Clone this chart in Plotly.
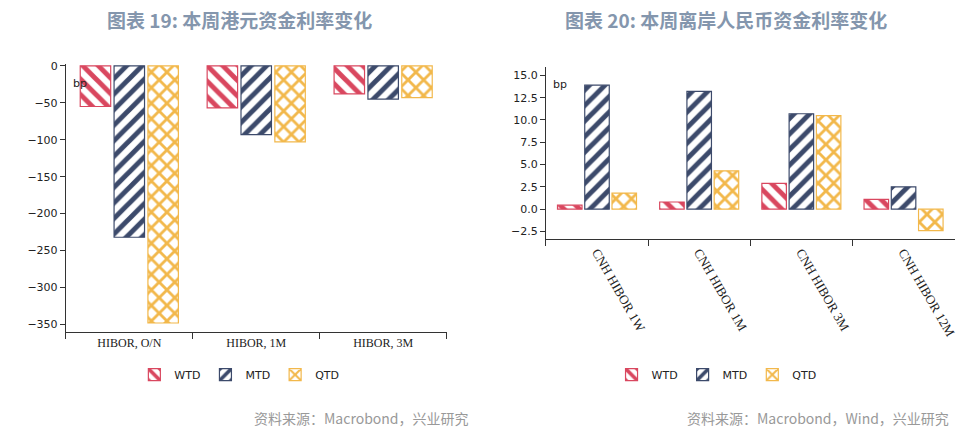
import plotly.graph_objects as go

hk_cats = ["HIBOR, O/N", "HIBOR, 1M", "HIBOR, 3M"]
hk_wtd = [-55, -57, -38]
hk_mtd = [-232, -93, -45]
hk_qtd = [-348, -103, -43]

cnh_cats = ["CNH HIBOR 1W", "CNH HIBOR 1M", "CNH HIBOR 3M", "CNH HIBOR 12M"]
cnh_wtd = [0.45, 0.8, 2.9, 1.1]
cnh_mtd = [13.9, 13.2, 10.7, 2.5]
cnh_qtd = [1.8, 4.3, 10.5, -2.4]

names = ["WTD", "MTD", "QTD"]
colors = ["#d9475f", "#3c4a6b", "#f2b84b"]
shapes = ["\\", "/", "x"]

fig = go.Figure()
for i, vals in enumerate([hk_wtd, hk_mtd, hk_qtd]):
    fig.add_bar(x=hk_cats, y=vals, name=names[i], xaxis="x", yaxis="y", legend="legend",
                marker=dict(color="white", line=dict(color=colors[i], width=1.2),
                            pattern=dict(shape=shapes[i], fgcolor=colors[i], bgcolor="white",
                                         fgopacity=1, size=11, solidity=0.45)))
for i, vals in enumerate([cnh_wtd, cnh_mtd, cnh_qtd]):
    fig.add_bar(x=cnh_cats, y=vals, name=names[i], xaxis="x2", yaxis="y2", legend="legend2",
                marker=dict(color="white", line=dict(color=colors[i], width=1.2),
                            pattern=dict(shape=shapes[i], fgcolor=colors[i], bgcolor="white",
                                         fgopacity=1, size=11, solidity=0.45)))

axis_common = dict(showline=True, linecolor="#333", ticks="outside", tickcolor="#333",
                   showgrid=False, zeroline=False)
fig.update_layout(
    width=967, height=433, plot_bgcolor="white", paper_bgcolor="white",
    margin=dict(l=0, r=0, t=0, b=0), barmode="group", bargap=0.2, bargroupgap=0.1,
    font=dict(family="Liberation Serif", size=12, color="#222"),
    xaxis=dict(domain=[0.06, 0.455], anchor="y", tickson="boundaries", ticklen=6, **axis_common),
    yaxis=dict(domain=[0.255, 0.88], anchor="x", range=[-360, 2], dtick=50,
               tickfont=dict(family="DejaVu Sans", size=11), **axis_common),
    xaxis2=dict(domain=[0.558, 0.982], anchor="y2", tickson="boundaries", tickangle=60, ticklen=6,
                tickfont=dict(size=13), **axis_common),
    yaxis2=dict(domain=[0.473, 0.875], anchor="x2", range=[-3.3, 16], dtick=2.5, tickformat=".1f",
                tickfont=dict(family="DejaVu Sans", size=11), **axis_common),
    legend=dict(orientation="h", x=0.24, xanchor="center", y=0.155, yanchor="middle",
                font=dict(family="DejaVu Sans", size=11)),
    legend2=dict(orientation="h", x=0.735, xanchor="center", y=0.155, yanchor="middle",
                 font=dict(family="DejaVu Sans", size=11)),
    annotations=[
        dict(text="<b>图表 19: 本周港元资金利率变化</b>", x=0.24, y=1.02, xref="paper", yref="paper",
             xanchor="center", yanchor="top", showarrow=False,
             font=dict(family="Noto Sans CJK SC", size=19, color="#8496ad")),
        dict(text="<b>图表 20: 本周离岸人民币资金利率变化</b>", x=0.745, y=1.02, xref="paper", yref="paper",
             xanchor="center", yanchor="top", showarrow=False,
             font=dict(family="Noto Sans CJK SC", size=19, color="#8496ad")),
        dict(text="资料来源：Macrobond，兴业研究", x=0.48, y=0.025, xref="paper", yref="paper",
             xanchor="right", yanchor="bottom", showarrow=False,
             font=dict(family="Noto Sans CJK SC", size=14, color="#999")),
        dict(text="资料来源：Macrobond，Wind，兴业研究", x=0.978, y=0.025, xref="paper", yref="paper",
             xanchor="right", yanchor="bottom", showarrow=False,
             font=dict(family="Noto Sans CJK SC", size=14, color="#999")),
        dict(text="bp", x=0.065, y=0.855, xref="paper", yref="paper", xanchor="left", showarrow=False,
             font=dict(family="DejaVu Sans", size=11)),
        dict(text="bp", x=0.563, y=0.853, xref="paper", yref="paper", xanchor="left", showarrow=False,
             font=dict(family="DejaVu Sans", size=11)),
    ],
)
fig.write_html("out.html")
